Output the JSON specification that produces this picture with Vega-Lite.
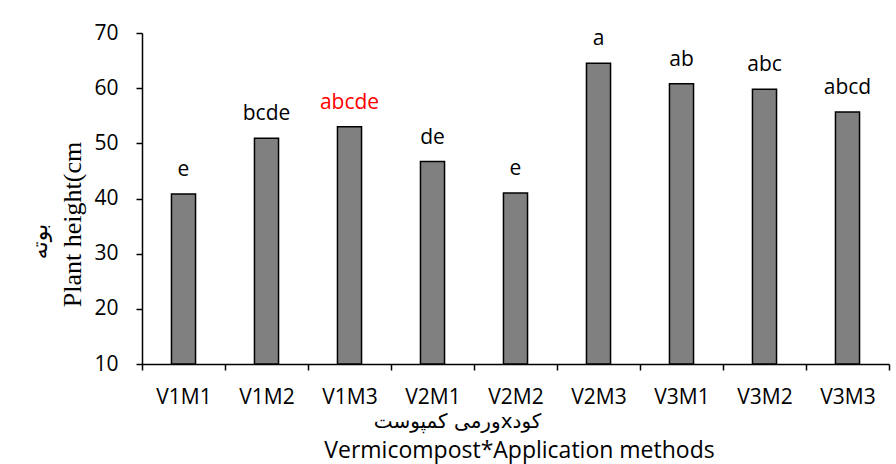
{
  "$schema": "https://vega.github.io/schema/vega-lite/v6.json",
  "width": 747,
  "height": 331,
  "autosize": "none",
  "padding": {"left": 142, "top": 33, "right": 7, "bottom": 100},
  "background": "white",
  "config": {"view": {"stroke": null}},
  "data": {"values": [
    {"treatment": "V1M1", "height": 40.8, "group": "e", "highlight": "no"},
    {"treatment": "V1M2", "height": 50.9, "group": "bcde", "highlight": "no"},
    {"treatment": "V1M3", "height": 53.0, "group": "abcde", "highlight": "yes"},
    {"treatment": "V2M1", "height": 46.7, "group": "de", "highlight": "no"},
    {"treatment": "V2M2", "height": 41.0, "group": "e", "highlight": "no"},
    {"treatment": "V2M3", "height": 64.5, "group": "a", "highlight": "no"},
    {"treatment": "V3M1", "height": 60.8, "group": "ab", "highlight": "no"},
    {"treatment": "V3M2", "height": 59.8, "group": "abc", "highlight": "no"},
    {"treatment": "V3M3", "height": 55.7, "group": "abcd", "highlight": "no"}
  ]},
  "layer": [
    {
      "mark": {"type": "bar", "width": {"band": 0.29}, "fill": "#808080", "stroke": "#000000", "strokeWidth": 1.5},
      "encoding": {
        "x": {
          "field": "treatment", "type": "nominal", "sort": null,
          "scale": {"paddingInner": 0, "paddingOuter": 0},
          "axis": {
            "orient": "bottom",
            "title": "Vermicompost*Application methods",
            "labelAngle": 0, "tickBand": "extent",
            "domainColor": "#000000", "domainWidth": 1.5, "tickColor": "#000000", "tickWidth": 1.5, "tickSize": 6,
            "labelFont": "Open Sans", "labelFontSize": 21, "labelColor": "#000000",
            "labelBaseline": "alphabetic", "labelPadding": 33,
            "titleFont": "Open Sans", "titleFontSize": 23, "titleFontWeight": "normal", "titleColor": "#000000",
            "titleX": 377, "titleY": 93, "titleBaseline": "alphabetic", "titleAlign": "center"
          }
        },
        "y": {
          "field": "height", "type": "quantitative",
          "scale": {"domain": [10, 70], "nice": false, "zero": false},
          "axis": {
            "orient": "left",
            "values": [10, 20, 30, 40, 50, 60, 70], "grid": false,
            "domainColor": "#000000", "domainWidth": 1.5, "tickColor": "#000000", "tickWidth": 1.5, "tickSize": 6,
            "labelFont": "Open Sans", "labelFontSize": 21, "labelColor": "#000000", "labelPadding": 18,
            "title": "Plant height(cm",
            "titleFont": "Liberation Serif", "titleFontSize": 26, "titleFontWeight": "normal", "titleColor": "#000000",
            "titleAngle": -90, "titleX": -62, "titleY": 191, "titleBaseline": "alphabetic", "titleAlign": "center"
          }
        },
        "y2": {"datum": 10}
      }
    },
    {
      "mark": {"type": "text", "dy": -18, "baseline": "alphabetic", "font": "Open Sans", "fontSize": 21},
      "encoding": {
        "x": {
          "field": "treatment", "type": "nominal", "sort": null,
          "scale": {"paddingInner": 0, "paddingOuter": 0},
          "axis": {
            "orient": "bottom", "labels": false, "ticks": false, "domain": false, "grid": false,
            "title": "\u202bکودxورمی کمپوست\u202c",
            "titleFont": "DejaVu Sans", "titleFontSize": 20, "titleFontWeight": "normal", "titleColor": "#000000",
            "titleX": 315, "titleY": 63, "titleBaseline": "alphabetic", "titleAlign": "center"
          }
        },
        "y": {
          "field": "height", "type": "quantitative",
          "scale": {"domain": [10, 70], "nice": false, "zero": false},
          "axis": {
            "orient": "left", "labels": false, "ticks": false, "domain": false, "grid": false,
            "title": "بوته",
            "titleFont": "DejaVu Sans", "titleFontSize": 22, "titleFontWeight": "normal", "titleColor": "#000000",
            "titleAngle": -90, "titleX": -96, "titleY": 208, "titleBaseline": "alphabetic", "titleAlign": "center"
          }
        },
        "text": {"field": "group"},
        "color": {"field": "highlight", "type": "nominal", "scale": {"domain": ["no", "yes"], "range": ["#000000", "#ff0000"]}, "legend": null}
      }
    }
  ],
  "resolve": {"scale": {"x": "independent", "y": "independent"}, "axis": {"x": "independent", "y": "independent"}}
}
